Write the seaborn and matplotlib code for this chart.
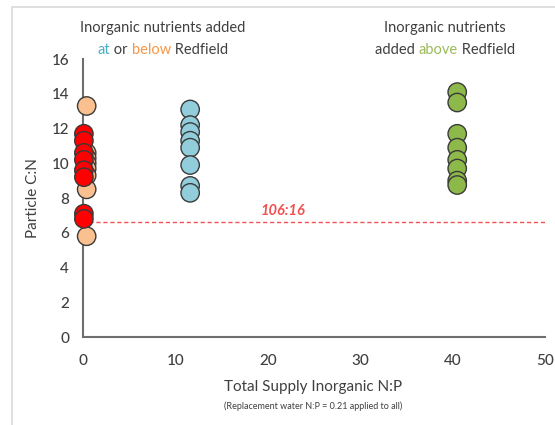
import matplotlib
matplotlib.use("Agg")
import matplotlib.pyplot as plt
from matplotlib.offsetbox import TextArea, HPacker, AnchoredOffsetbox
from matplotlib.patches import Rectangle
import seaborn as sns
import pandas as pd

# Particle C:N by total supply inorganic N:P
below_x = [0.4] * 8
below_cn = [13.3, 10.6, 10.3, 10.0, 9.7, 9.3, 8.5, 5.8]
at_x = [0.1] * 8
at_cn = [11.7, 11.3, 10.6, 10.2, 9.6, 9.2, 7.1, 6.8]
mid_x = [11.6] * 8
mid_cn = [13.1, 12.2, 11.8, 11.3, 10.9, 9.9, 8.7, 8.3]
above_x = [40.5] * 8
above_cn = [14.1, 13.5, 11.7, 10.9, 10.2, 9.7, 9.0, 8.75]

groups = ["below", "at", "mid", "above"]
palette = {"below": "#FAC090", "at": "#FF0000", "mid": "#92CDDC", "above": "#8DB84A"}

redfield = 106 / 16
x_ticks = [0, 10, 20, 30, 40, 50]
y_ticks = [0, 2, 4, 6, 8, 10, 12, 14, 16]

df = pd.concat([
    pd.DataFrame({"np": below_x, "cn": below_cn, "group": "below"}),
    pd.DataFrame({"np": at_x, "cn": at_cn, "group": "at"}),
    pd.DataFrame({"np": mid_x, "cn": mid_cn, "group": "mid"}),
    pd.DataFrame({"np": above_x, "cn": above_cn, "group": "above"}),
], ignore_index=True)

sns.set_style("white")
plt.rcParams["font.family"] = ["Lato", "DejaVu Sans"]
txt = "#404040"

fig = plt.figure(figsize=(5.55, 4.25), dpi=100)
ax = fig.add_axes([0.1495, 0.207, 0.8325, 0.654])

# light frame around the figure
fig.patches.append(Rectangle((12 / 555, -0.05), 1.1, 1 - 7 / 425 + 0.05,
                             transform=fig.transFigure, fill=False,
                             edgecolor="#D9D9D9", linewidth=1.2, zorder=0))

sns.scatterplot(data=df, x="np", y="cn", hue="group", hue_order=groups,
                palette=palette, s=175, edgecolor="#3A3A3A", linewidth=1.0,
                legend=False, ax=ax, zorder=3, clip_on=False)

ax.plot([0.7, 50], [redfield, redfield], linestyle=(0, (3, 2)),
        color="#F05050", linewidth=1.0, zorder=2)
ax.text(21.6, redfield + 0.25, "106:16", color="#F05050", style="italic",
        fontweight="bold", fontsize=10.5, ha="center", va="bottom")

ax.set_xlim(0, 50)
ax.set_ylim(0, 16)
ax.set_xticks(x_ticks)
ax.set_yticks(y_ticks)
ax.tick_params(length=0, labelsize=11, labelcolor=txt)
ax.tick_params(axis="x", pad=12)
ax.tick_params(axis="y", pad=10)
for lab in ax.get_xticklabels() + ax.get_yticklabels():
    lab.set_fontweight("medium")
for s in ["top", "right"]:
    ax.spines[s].set_visible(False)
for s in ["left", "bottom"]:
    ax.spines[s].set_color("#6E6E6E")
    ax.spines[s].set_linewidth(1.5)
ax.set_xlabel("")
ax.set_ylabel("Particle C:N", fontsize=11, color=txt, labelpad=8)

fig.text(313 / 555, 1 - 387 / 425, "Total Supply Inorganic N:P",
         ha="center", va="center", fontsize=11, color=txt)
fig.text(313 / 555, 1 - 406 / 425, "(Replacement water N:P = 0.21 applied to all)",
         ha="center", va="center", fontsize=6.5, color=txt)

fs = 10.5
fig.text(163 / 555, 1 - 28 / 425, "Inorganic nutrients added",
         ha="center", va="center", fontsize=fs, color=txt)
fig.text(445 / 555, 1 - 28 / 425, "Inorganic nutrients",
         ha="center", va="center", fontsize=fs, color=txt)


def colored_line(parts, xc, yc):
    boxes = [TextArea(t, textprops=dict(color=c, fontsize=fs)) for t, c in parts]
    pack = HPacker(children=boxes, align="baseline", pad=0, sep=0)
    anchored = AnchoredOffsetbox(loc="center", child=pack, frameon=False,
                                 bbox_to_anchor=(xc, yc),
                                 bbox_transform=fig.transFigure, borderpad=0, pad=0)
    fig.add_artist(anchored)


colored_line([("at", "#4BACC6"), (" or ", txt), ("below", "#F79646"),
              (" Redfield", txt)], 163 / 555, 1 - 50 / 425)
colored_line([("added ", txt), ("above", "#9BBB59"), (" Redfield", txt)],
             445 / 555, 1 - 50 / 425)

fig.savefig("out.png", dpi=100)
